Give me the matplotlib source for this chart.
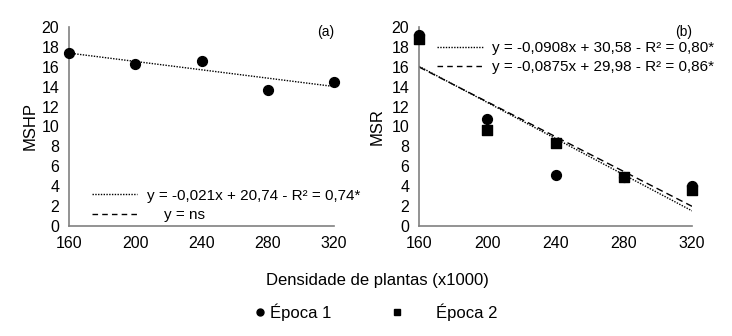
import matplotlib
matplotlib.use("Agg")
import matplotlib.pyplot as plt
import numpy as np
from matplotlib.lines import Line2D

plt.rcParams['font.family'] = ['Liberation Sans', 'DejaVu Sans']

dens = [160, 200, 240, 280, 320]
mshp_e1 = [17.4, 16.3, 16.6, 13.7, 14.5]
msr_e1 = [19.2, 10.8, 5.1, 4.9, 4.0]
msr_e2 = [18.8, 9.6, 8.3, 4.9, 3.6]

fit_a = (-0.021, 20.74)
fit_b1 = (-0.0908, 30.58)
fit_b2 = (-0.0875, 29.98)

lbl_a1 = "y = -0,021x + 20,74 - R² = 0,74*"
lbl_a2 = "y = ns"
lbl_b1 = "y = -0,0908x + 30,58 - R² = 0,80*"
lbl_b2 = "y = -0,0875x + 29,98 - R² = 0,86*"

yticks = list(range(0, 21, 2))

W, H = 732, 336
fig = plt.figure(figsize=(W/100, H/100), dpi=100)

def px(x0, y0, x1, y1):
    return [x0/W, 1-y1/H, (x1-x0)/W, (y1-y0)/H]

axA = fig.add_axes(px(69, 27, 334, 226))
axB = fig.add_axes(px(419, 27, 692, 226))

gray = '#808080'
fs = 11
tfs = 11.5
for ax in (axA, axB):
    ax.set_xlim(160, 320)
    ax.set_ylim(0, 20)
    ax.set_xticks(dens)
    ax.set_yticks(yticks)
    for s in ('top', 'right'):
        ax.spines[s].set_visible(False)
    for s in ('left', 'bottom'):
        ax.spines[s].set_color(gray)
        ax.spines[s].set_linewidth(1.2)
    ax.tick_params(length=0, labelsize=tfs, pad=7)

xs = np.array([160, 320])
h1 = Line2D([], [], color='black', ls=(0, (1, 1)), lw=1)
h2 = Line2D([], [], color='black', ls=(0, (4, 3)), lw=1)

# Panel a
axA.plot(xs, fit_a[0]*xs + fit_a[1], color='black', ls=(0, (1, 1)), lw=1)
axA.scatter(dens, mshp_e1, marker='o', s=50, color='black', zorder=5, clip_on=False)
axA.set_ylabel("MSHP", fontsize=12, labelpad=3)
axA.text(1.0, 1.01, "(a)", transform=axA.transAxes, ha='right', va='top', fontsize=fs-1)
axA.legend([h1, h2], [lbl_a1, "    " + lbl_a2], loc='lower left', bbox_to_anchor=(0.085, 0.02),
           frameon=False, fontsize=fs, handlelength=3.0, handletextpad=0.6, labelspacing=0.35,
           borderaxespad=0, borderpad=0)

# Panel b
axB.plot(xs, fit_b1[0]*xs + fit_b1[1], color='black', ls=(0, (1, 1)), lw=1)
axB.plot(xs, fit_b2[0]*xs + fit_b2[1], color='black', ls=(0, (5, 3)), lw=1)
axB.scatter(dens, msr_e1, marker='o', s=50, color='black', zorder=5, clip_on=False)
axB.scatter(dens, msr_e2, marker='s', s=50, color='black', zorder=5, clip_on=False)
axB.set_ylabel("MSR", fontsize=12, labelpad=5)
axB.text(1.0, 1.01, "(b)", transform=axB.transAxes, ha='right', va='top', fontsize=fs-1)
axB.legend([h1, h2], [lbl_b1, lbl_b2], loc='upper left', bbox_to_anchor=(0.065, 0.93),
           frameon=False, fontsize=fs, handlelength=3.0, handletextpad=0.6, labelspacing=0.35,
           borderaxespad=0, borderpad=0)

fig.text(377/W, 1-280/H, "Densidade de plantas (x1000)", ha='center', va='center', fontsize=12)

m1 = Line2D([], [], marker='o', color='black', ls='none', markersize=5)
m2 = Line2D([], [], marker='s', color='black', ls='none', markersize=5)
fig.legend([m1], ["Época 1"], loc='center', bbox_to_anchor=(292/W, 1-312/H),
           frameon=False, fontsize=12, handletextpad=0.1, handlelength=1, borderpad=0)
fig.legend([m2], ["Época 2"], loc='center', bbox_to_anchor=(443/W, 1-312/H),
           frameon=False, fontsize=12, handletextpad=1.8, handlelength=1, borderpad=0)

fig.savefig("out.png", dpi=100)
